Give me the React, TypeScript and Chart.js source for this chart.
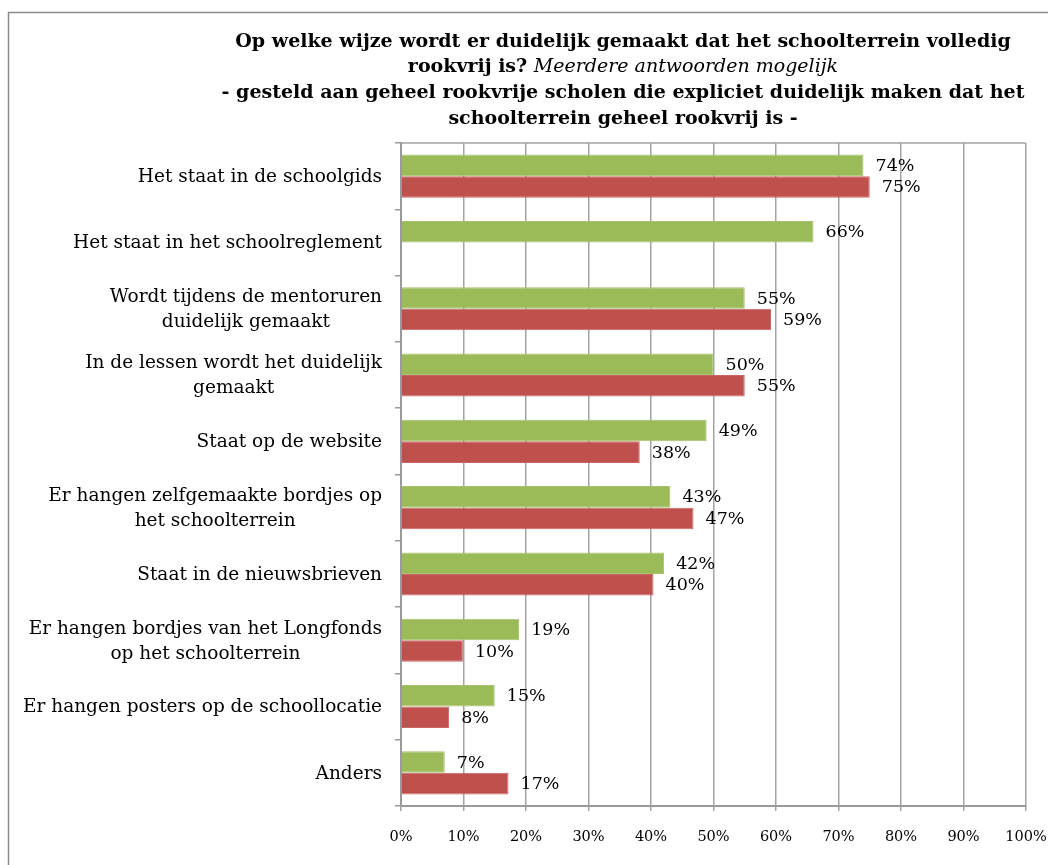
import React, { useEffect, useRef } from "react";
import { Chart, registerables } from "chart.js";

Chart.register(...registerables);

const categories: string[][] = [
  ["Het staat in de schoolgids"],
  ["Het staat in het schoolreglement"],
  ["Wordt tijdens de mentoruren", "duidelijk gemaakt"],
  ["In de lessen wordt het duidelijk", "gemaakt"],
  ["Staat op de website"],
  ["Er hangen zelfgemaakte bordjes op", "het schoolterrein"],
  ["Staat in de nieuwsbrieven"],
  ["Er hangen bordjes van het Longfonds", "op het schoolterrein"],
  ["Er hangen posters op de schoollocatie"],
  ["Anders"],
];
const greenValues: (number | null)[] = [74, 66, 55, 50, 48.9, 43.1, 42.1, 18.9, 15, 7];
const redValues: (number | null)[] = [75, null, 59.2, 55, 38.2, 46.8, 40.4, 9.9, 7.7, 17.2];
const xTickValues = [0, 10, 20, 30, 40, 50, 60, 70, 80, 90, 100];

const titleLine1 = "Op welke wijze wordt er duidelijk gemaakt dat het schoolterrein volledig";
const titleLine2Bold = "rookvrij is? ";
const titleLine2Italic = "Meerdere antwoorden mogelijk";
const titleLine3 = "- gesteld aan geheel rookvrije scholen die expliciet duidelijk maken dat het";
const titleLine4 = "schoolterrein geheel rookvrij is -";

const FAMILY = '"DejaVu Serif", "Liberation Serif", serif';
const GREEN = "#9BBB59";
const RED = "#C0504D";
const GRID = "#a3a3a3";
const AXIS = "#9a9a9a";

const framePlugin = {
  id: "frameAndTitle",
  beforeDraw(chart: any) {
    const ctx = chart.ctx;
    ctx.save();
    ctx.fillStyle = "#ffffff";
    ctx.fillRect(0, 0, chart.width, chart.height);
    ctx.strokeStyle = "#8c8c8c";
    ctx.lineWidth = 1.5;
    ctx.strokeRect(8.5, 12.5, 3000, 3000);
    ctx.restore();
  },
  afterDraw(chart: any) {
    const ctx = chart.ctx;
    const cx = 623;
    ctx.save();
    ctx.fillStyle = "#000";
    ctx.textBaseline = "middle";
    const bold = `bold 19px ${FAMILY}`;
    const ital = `italic 19px ${FAMILY}`;
    const simple = (text: string, y: number) => {
      ctx.font = bold;
      ctx.textAlign = "center";
      ctx.fillText(text, cx, y);
    };
    simple(titleLine1, 42);
    ctx.font = bold;
    const w1 = ctx.measureText(titleLine2Bold).width;
    ctx.font = ital;
    const w2 = ctx.measureText(titleLine2Italic).width;
    const start = cx - (w1 + w2) / 2;
    ctx.textAlign = "left";
    ctx.font = bold;
    ctx.fillText(titleLine2Bold, start, 67);
    ctx.font = ital;
    ctx.fillText(titleLine2Italic, start + w1, 67);
    simple(titleLine3, 93);
    simple(titleLine4, 119);

    // y-axis category labels: block right-aligned, lines centered
    const y = chart.scales.y;
    ctx.font = `18.5px ${FAMILY}`;
    ctx.textAlign = "center";
    const right = chart.chartArea.left - 19;
    const lh = 25;
    categories.forEach((lines, i) => {
      const py = y.getPixelForTick(i);
      const maxW = Math.max(...lines.map((l) => ctx.measureText(l).width));
      const mid = right - maxW / 2;
      lines.forEach((l, j) => {
        ctx.fillText(l, mid, py + (j - (lines.length - 1) / 2) * lh + 1);
      });
    });
    ctx.restore();
  },
  beforeDatasetsDraw(chart: any) {
    const { ctx, chartArea } = chart;
    ctx.save();
    ctx.strokeStyle = GRID;
    ctx.lineWidth = 1.5;
    ctx.beginPath();
    ctx.moveTo(chartArea.left, chartArea.top);
    ctx.lineTo(chartArea.right, chartArea.top);
    ctx.stroke();
    ctx.restore();
  },
  afterDatasetsDraw(chart: any) {
    const ctx = chart.ctx;
    ctx.save();
    ctx.font = `17.5px ${FAMILY}`;
    ctx.fillStyle = "#000";
    ctx.textAlign = "left";
    ctx.textBaseline = "middle";
    chart.data.datasets.forEach((ds: any, di: number) => {
      const meta = chart.getDatasetMeta(di);
      meta.data.forEach((el: any, i: number) => {
        const v = ds.data[i];
        if (v === null || v === undefined) return;
        ctx.fillText(`${Math.round(v)}%`, el.x + 12, el.y + 1);
      });
    });
    ctx.restore();
  },
};

export default function App() {
  const ref = useRef<HTMLCanvasElement | null>(null);
  useEffect(() => {
    if (!ref.current) return;
    const chart = new Chart(ref.current, {
      type: "bar",
      data: {
        labels: categories.map((c) => c.join(" ")),
        datasets: [
          {
            label: "Groen",
            data: greenValues,
            backgroundColor: GREEN,
            borderColor: "#A7C26C",
            borderWidth: 1,
            categoryPercentage: 0.65,
            barPercentage: 1.0,
          },
          {
            label: "Rood",
            data: redValues,
            backgroundColor: RED,
            borderColor: "#C96663",
            borderWidth: 1,
            categoryPercentage: 0.65,
            barPercentage: 1.0,
          },
        ],
      },
      options: {
        indexAxis: "y",
        animation: false,
        responsive: false,
        devicePixelRatio: 1,
        layout: { padding: { left: 0, top: 143, right: 22, bottom: 0 } },
        plugins: {
          legend: { display: false },
          title: { display: false },
          tooltip: { enabled: false },
        },
        scales: {
          x: {
            type: "linear",
            min: 0,
            max: 100,
            afterFit: (s: any) => {
              s.height = 59;
              s.paddingLeft = 0;
              s.paddingRight = 0;
            },
            afterBuildTicks: (s: any) => {
              s.ticks = xTickValues.map((v) => ({ value: v }));
            },
            ticks: {
              stepSize: 10,
              padding: 18,
              color: "#000",
              font: { family: FAMILY, size: 14.5 },
              callback: (v: any) => `${v}%`,
            },
            grid: {
              color: GRID,
              lineWidth: 1.5,
              drawTicks: true,
              tickLength: 5,
            },
            border: { display: true, color: AXIS, width: 2 },
          },
          y: {
            type: "category",
            afterFit: (s: any) => {
              s.width = 401;
            },
            ticks: { display: false },
            grid: {
              offset: true,
              drawOnChartArea: false,
              drawTicks: true,
              tickLength: 6,
              color: AXIS,
              lineWidth: 1.5,
            },
            border: { display: true, color: AXIS, width: 2 },
          },
        },
      },
      plugins: [framePlugin],
    });
    return () => chart.destroy();
  }, []);
  return (
    <div style={{ position: "absolute", left: 0, top: 0, width: 1048, height: 865, background: "#fff" }}>
      <canvas ref={ref} width={1048} height={865} style={{ display: "block" }} />
    </div>
  );
}
